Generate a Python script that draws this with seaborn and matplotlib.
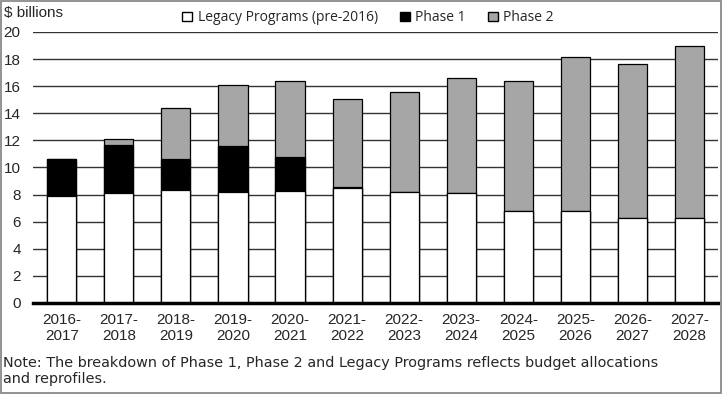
import numpy as np
import pandas as pd
import seaborn as sns
import matplotlib.pyplot as plt
from matplotlib.patches import Patch, Rectangle

years = ["2016-\n2017", "2017-\n2018", "2018-\n2019", "2019-\n2020", "2020-\n2021", "2021-\n2022",
         "2022-\n2023", "2023-\n2024", "2024-\n2025", "2025-\n2026", "2026-\n2027", "2027-\n2028"]
legacy = [7.9, 8.15, 8.35, 8.2, 8.25, 8.45, 8.2, 8.1, 6.8, 6.8, 6.25, 6.25]
phase1 = [2.73, 3.5, 2.3, 3.35, 2.5, 0.1, 0.0, 0.0, 0.0, 0.0, 0.0, 0.0]
phase2 = [0.0, 0.45, 3.7, 4.55, 5.6, 6.5, 7.35, 8.5, 9.55, 11.35, 11.4, 12.7]

df = pd.DataFrame({"year": years, "legacy": legacy, "phase1": phase1, "phase2": phase2})
df["p1_top"] = df["legacy"] + df["phase1"]
df["total"] = df["p1_top"] + df["phase2"]

sns.set_style("white")
plt.rcParams["font.family"] = ["Liberation Sans", "DejaVu Sans"]

fig = plt.figure(figsize=(7.22, 3.94), dpi=100)
ax = fig.add_axes([0.046, 0.231, 0.9485, 0.688])

gray2 = "#a6a6a6"
sns.barplot(data=df, x="year", y="total", color=gray2, edgecolor="black", linewidth=0.9,
            width=0.51, saturation=1, ax=ax)
sns.barplot(data=df, x="year", y="p1_top", color="black", edgecolor="black", linewidth=0.9,
            width=0.51, saturation=1, ax=ax)
sns.barplot(data=df, x="year", y="legacy", color="white", edgecolor="black", linewidth=0.9,
            width=0.51, saturation=1, ax=ax)

ax.set_ylim(0, 20)
ax.set_xlim(-0.5, len(years) - 0.5)
ax.set_yticks(np.arange(0, 21, 2))
ax.yaxis.grid(True, color="#333333", linewidth=1.0)
ax.set_axisbelow(True)
ax.set_xlabel("")
ax.set_ylabel("")
for s in ["left", "right", "top"]:
    ax.spines[s].set_visible(False)
ax.spines["bottom"].set_linewidth(2.5)
ax.spines["bottom"].set_color("black")
ax.tick_params(axis="y", labelsize=11, length=0, pad=9)
ax.tick_params(axis="x", labelsize=11, length=0, pad=7)
for lbl in ax.get_xticklabels():
    lbl.set_linespacing(1.25)

fig.text(0.006, 0.968, "$ billions", fontsize=11, va="center", ha="left")

handles = [Patch(facecolor="white", edgecolor="black", label="Legacy Programs (pre-2016)"),
           Patch(facecolor="black", edgecolor="black", label="Phase 1"),
           Patch(facecolor=gray2, edgecolor="black", label="Phase 2")]
fig.legend(handles=handles, loc="center", bbox_to_anchor=(0.51, 0.955), ncol=3, frameon=False,
           handlelength=0.7, handleheight=0.7, handletextpad=0.4, columnspacing=1.6,
           prop={"family": ["Open Sans", "DejaVu Sans"], "size": 10})

fig.text(0.004, 0.058, "Note: The breakdown of Phase 1, Phase 2 and Legacy Programs reflects budget allocations\nand reprofiles.",
         fontsize=10.4, va="center", ha="left", linespacing=1.15, family=["DejaVu Sans"])

fig.add_artist(Rectangle((0.001, 0.002), 0.997, 0.996, transform=fig.transFigure, fill=False,
                         edgecolor="#808080", linewidth=1.2))

fig.savefig("out.png", dpi=100)
